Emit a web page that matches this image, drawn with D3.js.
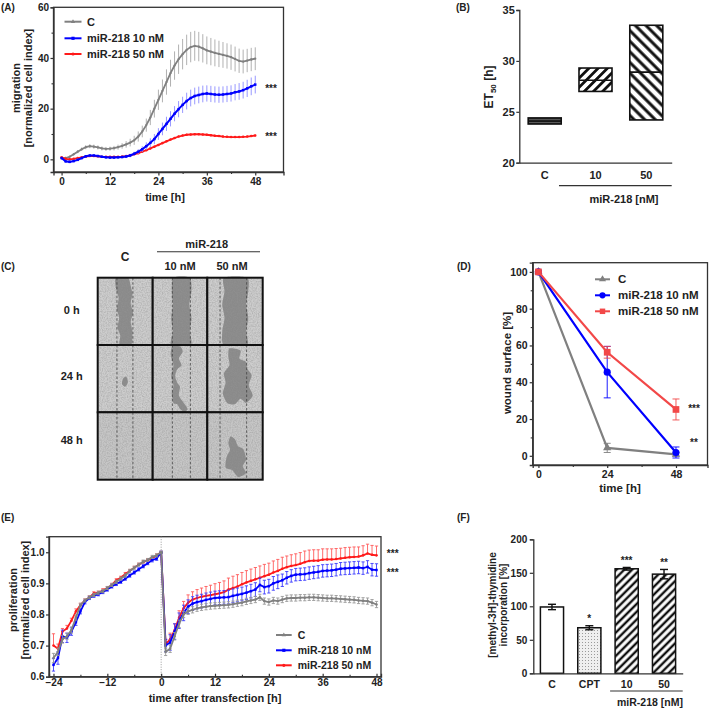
<!DOCTYPE html>
<html>
<head>
<meta charset="UTF-8">
<script src="https://d3js.org/d3.v7.min.js"></script>
<style>
  body { margin: 0; background: #fff; }
  svg text { font-family: "Liberation Sans", Arial, Helvetica, sans-serif; font-weight: bold; fill: #222; }
</style>
</head>
<body>
<svg id="fig" width="709" height="712"></svg>
<script>
// ---------- data ----------
// (A) migration, hourly 0..48 h
const hoursA = d3.range(0, 49);
const migC = [0.5,0.5,1.0,2.0,3.0,4.0,4.8,5.2,5.0,4.7, 4.3,4.1,4.2,4.4,4.8,5.3,5.9,6.6,7.5,9.0,
  11.0,13.5,16.5,20.0,23.5,27.0,30.5,34.0,37.0,39.5, 41.5,43.2,44.3,44.8,44.5,43.8,43.0,42.5,42.0,41.6,
  41.2,40.8,40.3,39.6,38.9,38.6,39.0,39.4,39.7];
const migCErr = [0.6,0.6,0.5,0.5,0.6,0.7,0.8,0.8,0.8,0.8, 0.8,0.8,0.8,0.9,1.0,1.1,1.3,1.5,1.8,2.0,
  2.3,2.6,3.0,3.5,4.0,4.5,5.0,5.3,5.6,5.8, 6.0,6.0,6.0,5.9,5.8,5.6,5.5,5.4,5.3,5.2,
  5.1,5.0,5.0,4.9,4.8,4.7,4.6,4.6,4.5];
const mig10 = [0.5,-0.8,-1.0,-0.7,-0.2,0.5,1.2,1.5,1.5,1.3, 1.0,0.8,0.7,0.7,0.8,0.9,1.1,1.5,2.2,3.0,
  4.0,5.2,6.5,8.0,10.0,12.0,14.0,16.0,18.0,19.8, 21.5,23.0,24.2,25.0,25.4,25.8,26.0,25.8,25.6,25.5,
  25.6,25.8,26.0,26.5,26.8,27.3,28.0,28.8,29.5];
const mig10Err = [0.5,0.5,0.5,0.5,0.5,0.5,0.5,0.5,0.5,0.5, 0.5,0.5,0.5,0.5,0.5,0.5,0.6,0.7,0.8,1.0,
  1.2,1.5,1.8,2.0,2.3,2.5,2.8,3.0,3.0,3.2, 3.2,3.3,3.3,3.3,3.3,3.3,3.2,3.2,3.2,3.2,
  3.2,3.2,3.2,3.2,3.3,3.3,3.4,3.5,3.5];
const mig50 = [0.8,0.2,0.0,0.2,0.5,0.8,1.1,1.3,1.3,1.2, 1.0,1.0,1.0,1.0,1.0,1.1,1.3,1.6,2.0,2.4,
  3.0,3.6,4.3,5.0,5.7,6.4,7.1,7.8,8.4,9.0, 9.4,9.7,9.8,9.9,9.9,9.8,9.7,9.5,9.3,9.2,
  9.0,8.9,8.8,8.8,8.8,8.9,9.0,9.2,9.4];
const mig50Err = [0.5,0.4,0.4,0.3,0.3,0.3,0.3,0.3,0.3,0.3, 0.3,0.3,0.3,0.3,0.3,0.3,0.3,0.3,0.3,0.3,
  0.3,0.3,0.3,0.3,0.3,0.3,0.3,0.3,0.3,0.3, 0.3,0.3,0.3,0.3,0.3,0.3,0.3,0.3,0.3,0.3,
  0.3,0.3,0.3,0.3,0.3,0.3,0.3,0.3,0.4];

// (B) ET50 floating bars
const bCats = ["C", "10", "50"];
const bLow = [23.8, 27.0, 24.2];
const bMid = [24.1, 28.1, 28.9];
const bHigh = [24.4, 29.3, 33.5];

// (D) wound surface
const dTimes = [0, 24, 48];
const woundC = [100, 4.3, 0.8];
const woundCErr = [0, 2.5, 1.0];
const wound10 = [100, 45.5, 1.8];
const wound10Err = [0, 14.0, 3.0];
const wound50 = [100, 56.3, 25.2];
const wound50Err = [0, 3.2, 5.7];

// (E) proliferation, hourly
const preHours = d3.range(-24, 1);
const postHours = d3.range(0, 49);
const preC  = [0.66,0.68,0.72,0.73,0.75,0.79,0.83,0.845,0.855,0.863,0.87,0.875,0.885,0.895,0.905,0.915,0.925,0.94,0.95,0.96,0.97,0.975,0.985,0.99,1.0];
const pre10 = [0.638,0.66,0.73,0.725,0.745,0.775,0.81,0.84,0.853,0.86,0.865,0.872,0.88,0.89,0.898,0.905,0.915,0.925,0.935,0.945,0.955,0.965,0.975,0.98,1.0];
const pre50 = [0.70,0.69,0.745,0.755,0.78,0.81,0.83,0.845,0.855,0.868,0.87,0.878,0.885,0.895,0.91,0.918,0.93,0.94,0.95,0.96,0.968,0.975,0.98,0.99,1.0];
const preCErr  = [0.015,0.012,0.012,0.01,0.01,0.008,0.006,0.005,0.005,0.005,0.005,0.005,0.005,0.005,0.005,0.005,0.005,0.005,0.005,0.005,0.005,0.005,0.005,0.005,0.003];
const pre10Err = [0.02,0.02,0.02,0.015,0.012,0.01,0.008,0.006,0.005,0.005,0.005,0.005,0.005,0.005,0.005,0.005,0.005,0.005,0.005,0.005,0.005,0.005,0.006,0.006,0.003];
const pre50Err = [0.038,0.015,0.01,0.01,0.008,0.008,0.006,0.005,0.005,0.005,0.005,0.005,0.005,0.005,0.005,0.005,0.005,0.005,0.005,0.005,0.005,0.005,0.005,0.005,0.003];
const postC = [1.0,0.68,0.69,0.73,0.77,0.80,0.81,0.815,0.82,0.823, 0.825,0.827,0.828,0.829,0.83,0.831,0.833,0.836,0.838,0.842,
  0.845,0.848,0.855,0.843,0.84,0.845,0.843,0.848,0.852,0.853, 0.853,0.854,0.854,0.855,0.855,0.854,0.853,0.852,0.852,0.851,
  0.85,0.849,0.848,0.847,0.845,0.844,0.843,0.838,0.832];
const post10 = [1.0,0.70,0.71,0.745,0.78,0.805,0.825,0.835,0.84,0.843, 0.847,0.85,0.853,0.854,0.855,0.856,0.86,0.863,0.866,0.87,
  0.875,0.88,0.895,0.888,0.891,0.9,0.905,0.91,0.918,0.924, 0.928,0.929,0.93,0.933,0.935,0.937,0.94,0.941,0.942,0.944,
  0.947,0.948,0.949,0.95,0.951,0.949,0.953,0.944,0.943];
const post50 = [1.0,0.705,0.72,0.75,0.79,0.82,0.838,0.848,0.853,0.857, 0.86,0.862,0.865,0.868,0.872,0.88,0.885,0.89,0.897,0.903,
  0.908,0.913,0.918,0.923,0.928,0.935,0.94,0.947,0.952,0.956, 0.959,0.963,0.968,0.972,0.973,0.973,0.976,0.977,0.977,0.978,
  0.98,0.982,0.984,0.985,0.986,0.99,0.996,0.992,0.99];
const postCErr = [0.003,0.012,0.012,0.012,0.012,0.01,0.01,0.01,0.01,0.01, 0.01,0.01,0.01,0.01,0.01,0.01,0.01,0.01,0.01,0.01,
  0.01,0.01,0.01,0.01,0.01,0.01,0.01,0.01,0.01,0.01, 0.01,0.01,0.01,0.01,0.01,0.01,0.01,0.01,0.01,0.01,
  0.01,0.01,0.01,0.01,0.01,0.01,0.01,0.01,0.01];
const post10Err = [0.003,0.02,0.025,0.025,0.025,0.025,0.022,0.022,0.022,0.022, 0.022,0.022,0.022,0.022,0.022,0.022,0.022,0.022,0.022,0.022,
  0.022,0.022,0.022,0.022,0.022,0.022,0.022,0.02,0.02,0.02, 0.02,0.02,0.02,0.02,0.02,0.02,0.02,0.02,0.02,0.02,
  0.02,0.02,0.02,0.02,0.02,0.02,0.02,0.02,0.02];
const post50Err = [0.003,0.015,0.02,0.02,0.022,0.022,0.025,0.025,0.027,0.028, 0.03,0.032,0.034,0.035,0.036,0.037,0.038,0.038,0.038,0.038,
  0.038,0.038,0.038,0.038,0.037,0.037,0.037,0.037,0.036,0.036, 0.036,0.036,0.036,0.035,0.035,0.035,0.035,0.034,0.034,0.034,
  0.033,0.033,0.032,0.032,0.031,0.031,0.03,0.03,0.03];

// (F) thymidine incorporation
const fCats = ["C", "CPT", "10", "50"];
const fVals = [99, 68, 156, 148];
const fErr = [4, 3, 2, 7];
const fStars = ["", "*", "***", "**"];

// (C) wound photos (shape outlines in cell-relative units 0..1)
const cCols = ["C", "10 nM", "50 nM"];
const cRows = ["0 h", "24 h", "48 h"];
const cDashes = [[0.35, 0.64], [0.36, 0.69], [0.23, 0.71]];
const cWounds = [
  [[[0.33,0],[0.55,0],[0.6,0.12],[0.63,0.25],[0.6,0.38],[0.64,0.52],[0.6,0.66],[0.63,0.8],[0.61,1],[0.4,1],[0.41,0.86],[0.36,0.74],[0.39,0.6],[0.35,0.46],[0.38,0.3],[0.33,0.15]]],
  [[[0.38,0],[0.68,0],[0.71,0.2],[0.67,0.4],[0.71,0.6],[0.68,0.8],[0.7,1],[0.34,1],[0.37,0.8],[0.34,0.6],[0.37,0.4],[0.35,0.2]]],
  [[[0.3,0],[0.72,0],[0.74,0.2],[0.7,0.4],[0.74,0.6],[0.7,0.8],[0.72,1],[0.3,1],[0.27,0.8],[0.31,0.6],[0.27,0.4],[0.31,0.2]]],
  [[[0.46,0.5],[0.52,0.47],[0.55,0.55],[0.5,0.62],[0.44,0.58]]],
  [[[0.36,0.02],[0.5,0.02],[0.55,0.1],[0.48,0.2],[0.53,0.3],[0.45,0.36],[0.41,0.46],[0.45,0.56],[0.5,0.62],[0.48,0.75],[0.56,0.85],[0.64,0.95],[0.58,0.99],[0.5,0.95],[0.45,0.88],[0.38,0.86],[0.35,0.72],[0.38,0.6],[0.34,0.46],[0.38,0.3],[0.33,0.15]]],
  [[[0.4,0.05],[0.6,0.08],[0.58,0.2],[0.7,0.25],[0.72,0.35],[0.8,0.45],[0.75,0.6],[0.82,0.75],[0.7,0.86],[0.6,0.8],[0.5,0.88],[0.36,0.86],[0.28,0.72],[0.33,0.56],[0.3,0.42],[0.4,0.3],[0.38,0.18]]],
  [],
  [],
  [[[0.42,0.36],[0.5,0.4],[0.55,0.5],[0.65,0.55],[0.7,0.7],[0.64,0.8],[0.7,0.9],[0.56,0.96],[0.45,0.86],[0.33,0.82],[0.35,0.66],[0.41,0.56],[0.38,0.46]]]
];

// ---------- helpers ----------
const svg = d3.select("#fig");
const GREY = "#808080", BLUE = "#0000ff", RED = "#ff1a1a";

const defs = svg.append("defs");
function hatch(id, size, width, angle, bg, fg) {
  const p = defs.append("pattern").attr("id", id).attr("patternUnits", "userSpaceOnUse")
    .attr("width", size).attr("height", size).attr("patternTransform", `rotate(${angle})`);
  p.append("rect").attr("width", size).attr("height", size).attr("fill", bg || "#fff");
  p.append("line").attr("x1", size / 2).attr("x2", size / 2).attr("y1", 0).attr("y2", size)
    .attr("stroke", fg || "#111").attr("stroke-width", width);
}
hatch("hB10", 6.5, 2.8, 45);
hatch("hB50", 7.5, 3, -45);
hatch("hBC", 2.5, 1.2, 90, "#6a6a6a", "#222");
hatch("hF", 5.5, 2.4, 45);
const dots = defs.append("pattern").attr("id", "dotF").attr("patternUnits", "userSpaceOnUse")
  .attr("width", 3).attr("height", 3);
dots.append("rect").attr("width", 3).attr("height", 3).attr("fill", "#efefef");
dots.append("rect").attr("width", 1).attr("height", 1).attr("fill", "#9a9a9a");
const noise = defs.append("filter").attr("id", "grain").attr("x", 0).attr("y", 0).attr("width", 1).attr("height", 1);
noise.append("feTurbulence").attr("type", "fractalNoise").attr("baseFrequency", 0.8).attr("numOctaves", 2).attr("seed", 3);
noise.append("feColorMatrix").attr("type", "matrix")
  .attr("values", "0 0 0 0 0.3  0 0 0 0 0.3  0 0 0 0 0.3  1 0 0 0 -0.35");

function label(x, y, s, size, anchor) {
  return svg.append("text").attr("x", x).attr("y", y).attr("dy", "0.35em")
    .attr("font-size", size || 11).attr("text-anchor", anchor || "start").text(s);
}
function vlabel(cx, cy, s, size) {
  return svg.append("text").attr("transform", `translate(${cx},${cy}) rotate(-90)`)
    .attr("dy", "0.35em").attr("font-size", size || 11).attr("text-anchor", "middle").text(s);
}
function styleAxis(g, fs) {
  g.attr("font-size", fs || 10);
  g.select("path.domain").attr("stroke", "#333").attr("stroke-width", 1.3);
  g.selectAll(".tick line").attr("stroke", "#333").attr("stroke-width", 1.2);
  g.selectAll(".tick text").attr("fill", "#222");
}
function minor(axisFn, scale, vals, size, y, x) {
  const g = svg.append("g").attr("transform", `translate(${x || 0},${y || 0})`)
    .call(axisFn(scale).tickValues(vals).tickSize(size).tickFormat(""));
  g.select("path.domain").remove();
  g.selectAll(".tick line").attr("stroke", "#333").attr("stroke-width", 1.1);
}
function frame(x, y) {
  svg.append("rect").attr("x", x.range()[0]).attr("y", y.range()[1])
    .attr("width", x.range()[1] - x.range()[0]).attr("height", y.range()[0] - y.range()[1])
    .attr("fill", "none").attr("stroke", "#333").attr("stroke-width", 1.3);
}
// a line series with error bars and markers
function series(xs, ys, errs, x, y, o) {
  const g = svg.append("g");
  const pts = xs.map((t, i) => ({ t, v: ys[i], e: errs[i] }));
  g.selectAll("line.err").data(pts).join("line").attr("class", "err")
    .attr("x1", d => x(d.t)).attr("x2", d => x(d.t))
    .attr("y1", d => y(d.v - (o.upOnly ? 0 : d.e))).attr("y2", d => y(d.v + d.e))
    .attr("stroke", o.errColor || o.color).attr("stroke-width", o.errWidth || 0.9);
  if (o.cap) {
    g.selectAll("line.capT").data(pts).join("line")
      .attr("x1", d => x(d.t) - o.cap).attr("x2", d => x(d.t) + o.cap)
      .attr("y1", d => y(d.v + d.e)).attr("y2", d => y(d.v + d.e))
      .attr("stroke", o.errColor || o.color).attr("stroke-width", 0.9);
    if (!o.upOnly) g.selectAll("line.capB").data(pts).join("line")
      .attr("x1", d => x(d.t) - o.cap).attr("x2", d => x(d.t) + o.cap)
      .attr("y1", d => y(d.v - d.e)).attr("y2", d => y(d.v - d.e))
      .attr("stroke", o.errColor || o.color).attr("stroke-width", 0.9);
  }
  g.append("path").datum(pts).attr("fill", "none").attr("stroke", o.color)
    .attr("stroke-width", o.width || 2)
    .attr("d", d3.line().x(d => x(d.t)).y(d => y(d.v)));
  g.selectAll("path.mk").data(pts).join("path").attr("class", "mk")
    .attr("transform", d => `translate(${x(d.t)},${y(d.v)})`)
    .attr("d", d3.symbol().type(o.symbol || d3.symbolCircle).size(o.msize || 6))
    .attr("fill", o.color);
}
function legend(x0, x1, tx, ys, names, colors, symbols, msize, fs) {
  names.forEach((n, i) => {
    svg.append("line").attr("x1", x0).attr("x2", x1).attr("y1", ys[i]).attr("y2", ys[i])
      .attr("stroke", colors[i]).attr("stroke-width", 2);
    svg.append("path").attr("transform", `translate(${(x0 + x1) / 2},${ys[i]})`)
      .attr("d", d3.symbol().type(symbols[i]).size(msize[i])).attr("fill", colors[i]);
    label(tx, ys[i], n, fs);
  });
}
const names = ["C", "miR-218 10 nM", "miR-218 50 nM"];

// ---------- (A) ----------
const xA = d3.scaleLinear().domain([-2, 55]).range([53.5, 283.5]);
const yA = d3.scaleLinear().domain([-5, 60]).range([172, 7.3]);
frame(xA, yA);
minor(d3.axisBottom, xA, [6, 18, 30, 42], 2, 172);
minor(d3.axisLeft, yA, [10, 30, 50], 2, 0, 53.5);
svg.append("g").attr("transform", "translate(0,172)")
  .call(d3.axisBottom(xA).tickValues([0, 12, 24, 36, 48]).tickSize(3.5).tickPadding(2.5)).call(styleAxis);
svg.append("g").attr("transform", "translate(53.5,0)")
  .call(d3.axisLeft(yA).tickValues([0, 20, 40, 60]).tickSize(3).tickPadding(1.5)).call(styleAxis);
series(hoursA, migC, migCErr, xA, yA, { color: GREY, errColor: "#a8a8a8", width: 1.8, msize: 4 });
series(hoursA, mig50, mig50Err, xA, yA, { color: RED, errColor: "#ff7070", width: 1.8, msize: 5 });
series(hoursA, mig10, mig10Err, xA, yA, { color: BLUE, errColor: "#8c8cff", width: 2, msize: 6, symbol: d3.symbolSquare });
legend(64.5, 81.5, 87, [21.7, 38.3, 54], names, [GREY, BLUE, RED],
  [d3.symbolTriangle, d3.symbolSquare, d3.symbolCircle], [8, 10, 8], 11);
label(271, 88, "***", 10, "middle").attr("fill", "#444");
label(271, 136, "***", 10, "middle").attr("fill", "#444");
label(165, 197, "time [h]", 11, "middle");
vlabel(16, 88, "migration", 11);
vlabel(28.5, 88, "[normalized cell index]", 11);
label(1, 7, "(A)", 10);

// ---------- (B) ----------
const xB = d3.scaleBand().domain(bCats).range([519.3, 671.7]).paddingInner(0.35).paddingOuter(0.175);
const yB = d3.scaleLinear().domain([20, 35]).range([162.7, 10]);
const bFill = ["url(#hBC)", "url(#hB10)", "url(#hB50)"];
svg.append("g").selectAll("rect").data(bCats).join("rect")
  .attr("x", d => xB(d)).attr("width", xB.bandwidth())
  .attr("y", (d, i) => yB(bHigh[i])).attr("height", (d, i) => yB(bLow[i]) - yB(bHigh[i]))
  .attr("fill", (d, i) => bFill[i]).attr("stroke", "#111").attr("stroke-width", 1.6);
svg.append("g").selectAll("line").data(bCats).join("line")
  .attr("x1", d => xB(d)).attr("x2", d => xB(d) + xB.bandwidth())
  .attr("y1", (d, i) => yB(bMid[i])).attr("y2", (d, i) => yB(bMid[i]))
  .attr("stroke", "#111").attr("stroke-width", 1.6);
svg.append("g").attr("transform", "translate(0,162.7)")
  .call(d3.axisBottom(xB).tickSize(0).tickPadding(9)).call(g => styleAxis(g, 11));
svg.append("g").attr("transform", "translate(519.3,0)")
  .call(d3.axisLeft(yB).tickValues([20, 25, 30, 35]).tickSize(3).tickPadding(1.5)).call(g => styleAxis(g, 11));
svg.append("line").attr("x1", xB("10") - 20).attr("x2", 671.7).attr("y1", 185.7).attr("y2", 185.7)
  .attr("stroke", "#333").attr("stroke-width", 1.2);
label(624, 199, "miR-218 [nM]", 11, "middle");
const et = svg.append("text").attr("transform", "translate(488.5,87) rotate(-90)")
  .attr("dy", "0.35em").attr("font-size", 12).attr("text-anchor", "middle");
et.append("tspan").text("ET");
et.append("tspan").attr("font-size", 8).attr("dy", 3).text("50");
et.append("tspan").attr("dy", -3).text(" [h]");
label(456, 7, "(B)", 10);

// ---------- (C) ----------
const cx = [97.7, 152.7, 207.3, 262.7];
const cy = [277.7, 345, 412.3, 479.7];
const blob = d3.line().curve(d3.curveCardinalClosed.tension(0.3));
cRows.forEach((r, ri) => {
  cCols.forEach((c, ci) => {
    const x0 = cx[ci], y0 = cy[ri], w = cx[ci + 1] - x0, h = cy[ri + 1] - y0;
    svg.append("rect").attr("x", x0).attr("y", y0).attr("width", w).attr("height", h)
      .attr("fill", ri === 2 ? "#c6c6c6" : "#cdcdcd");
    cWounds[ri * 3 + ci].forEach(poly => {
      svg.append("path").attr("d", blob(poly.map(p => [x0 + p[0] * w, y0 + p[1] * h])))
        .attr("fill", "#8a8a8a");
    });
    svg.append("rect").attr("x", x0).attr("y", y0).attr("width", w).attr("height", h)
      .attr("filter", "url(#grain)").attr("fill", "#fff");
    cDashes[ci].forEach(f => {
      svg.append("line").attr("x1", x0 + f * w).attr("x2", x0 + f * w).attr("y1", y0).attr("y2", y0 + h)
        .attr("stroke", "#444").attr("stroke-width", 0.8).attr("stroke-dasharray", "2.5,2");
    });
    svg.append("rect").attr("x", x0).attr("y", y0).attr("width", w).attr("height", h)
      .attr("fill", "none").attr("stroke", "#111").attr("stroke-width", 2);
  });
  label(71.7, [310, 375.7, 440][ri], r, 11, "middle");
});
label(125, 256.7, "C", 12, "middle");
label(206.7, 244.3, "miR-218", 11, "middle");
svg.append("line").attr("x1", 157).attr("x2", 260).attr("y1", 251.7).attr("y2", 251.7)
  .attr("stroke", "#333").attr("stroke-width", 1.1);
label(180, 265.7, "10 nM", 11, "middle");
label(232, 265.7, "50 nM", 11, "middle");
label(1, 266.7, "(C)", 10);

// ---------- (D) ----------
const xD = d3.scaleLinear().domain([-2, 59]).range([532.7, 707.5]);
const yD = d3.scaleLinear().domain([-5, 105]).range([465, 262.7]);
frame(xD, yD);
minor(d3.axisBottom, xD, [12, 36], 2, 465);
minor(d3.axisLeft, yD, [10, 30, 50, 70, 90], 2, 0, 532.7);
svg.append("g").attr("transform", "translate(0,465)")
  .call(d3.axisBottom(xD).tickValues(dTimes).tickSize(3).tickPadding(2.5)).call(g => styleAxis(g, 10.5));
svg.append("g").attr("transform", "translate(532.7,0)")
  .call(d3.axisLeft(yD).tickValues([0, 20, 40, 60, 80, 100]).tickSize(3).tickPadding(2)).call(g => styleAxis(g, 10.5));
const RED_D = "#f24848";
series(dTimes, woundC, woundCErr, xD, yD, { color: GREY, width: 2.2, cap: 3.5, symbol: d3.symbolTriangle, msize: 30 });
series(dTimes, wound10, wound10Err, xD, yD, { color: BLUE, width: 2.2, cap: 3.5, symbol: d3.symbolCircle, msize: 40 });
series(dTimes, wound50, wound50Err, xD, yD, { color: RED_D, width: 2.2, cap: 3.5, symbol: d3.symbolSquare, msize: 45 });
legend(595, 610, 618, [279.3, 295.3, 311.3], names, [GREY, BLUE, RED_D],
  [d3.symbolTriangle, d3.symbolCircle, d3.symbolSquare], [22, 30, 30], 11.5);
label(694, 408, "***", 10, "middle").attr("fill", "#444");
label(694, 442.5, "**", 10, "middle").attr("fill", "#444");
label(620, 488.3, "time [h]", 11.5, "middle");
vlabel(506.7, 363, "wound surface [%]", 11.5);
label(457, 266, "(D)", 10);

// ---------- (E) ----------
const xE = d3.scaleLinear().domain([-25, 49]).range([49, 381]);
const yE = d3.scaleLinear().domain([0.6, 1.05]).range([676.7, 536.7]);
frame(xE, yE);
svg.append("line").attr("x1", xE(0)).attr("x2", xE(0)).attr("y1", 536.7).attr("y2", 676.7)
  .attr("stroke", "#999").attr("stroke-width", 1).attr("stroke-dasharray", "1,1.5");
minor(d3.axisBottom, xE, [-18, -6, 6, 18, 30, 42], -2, 676.7);
svg.append("g").attr("transform", "translate(0,676.7)")
  .call(d3.axisBottom(xE).tickValues([-24, -12, 0, 12, 24, 36, 48]).tickSize(-3).tickPadding(2.5)).call(styleAxis);
svg.append("g").attr("transform", "translate(49,0)")
  .call(d3.axisLeft(yE).tickValues([0.6, 0.7, 0.8, 0.9, 1.0]).tickFormat(d3.format(".1f")).tickSize(3).tickPadding(1.5)).call(styleAxis);
const eRed = { color: RED, errColor: "#ff5a5a", width: 1.8, cap: 1.6, msize: 5, upOnly: true };
const eBlue = { color: BLUE, errColor: "#3c3cff", width: 1.8, cap: 1.6, msize: 6, symbol: d3.symbolSquare };
const eGrey = { color: GREY, errColor: "#9a9a9a", width: 1.8, cap: 1.6, msize: 5 };
series(preHours, pre50, pre50Err, xE, yE, eRed);
series(postHours, post50, post50Err, xE, yE, eRed);
series(preHours, pre10, pre10Err, xE, yE, eBlue);
series(postHours, post10, post10Err, xE, yE, eBlue);
series(preHours, preC, preCErr, xE, yE, eGrey);
series(postHours, postC, postCErr, xE, yE, eGrey);
legend(276, 291.7, 297.7, [635, 650.3, 665.3], names, [GREY, BLUE, RED],
  [d3.symbolTriangle, d3.symbolSquare, d3.symbolCircle], [8, 10, 8], 10.5);
label(392.7, 553, "***", 10, "middle").attr("fill", "#444");
label(392.7, 572, "***", 10, "middle").attr("fill", "#444");
label(215, 698.3, "time after transfection [h]", 11, "middle");
vlabel(13, 600, "proliferation", 11);
vlabel(25.5, 600, "[normalized cell index]", 11);
label(1, 517.7, "(E)", 10);

// ---------- (F) ----------
const xF = d3.scaleBand().domain(fCats).range([533.3, 682.7]).paddingInner(0.38).paddingOuter(0.19);
const yF = d3.scaleLinear().domain([0, 200]).range([673.3, 539.3]);
const fFill = ["#fff", "url(#dotF)", "url(#hF)", "url(#hF)"];
svg.append("g").selectAll("rect").data(fCats).join("rect")
  .attr("x", d => xF(d)).attr("width", xF.bandwidth())
  .attr("y", (d, i) => yF(fVals[i])).attr("height", (d, i) => yF(0) - yF(fVals[i]))
  .attr("fill", (d, i) => fFill[i]).attr("stroke", "#111").attr("stroke-width", 1.5);
const fe = svg.append("g").attr("stroke", "#111").attr("stroke-width", 1.4);
fCats.forEach((c, i) => {
  const mx = xF(c) + xF.bandwidth() / 2;
  fe.append("line").attr("x1", mx).attr("x2", mx).attr("y1", yF(fVals[i] - fErr[i])).attr("y2", yF(fVals[i] + fErr[i]));
  fe.append("line").attr("x1", mx - 4).attr("x2", mx + 4).attr("y1", yF(fVals[i] + fErr[i])).attr("y2", yF(fVals[i] + fErr[i]));
  fe.append("line").attr("x1", mx - 4).attr("x2", mx + 4).attr("y1", yF(fVals[i] - fErr[i])).attr("y2", yF(fVals[i] - fErr[i]));
  if (fStars[i]) label(mx, yF(fVals[i] + fErr[i]) - 7, fStars[i], 10, "middle").attr("fill", "#444");
});
svg.append("g").attr("transform", "translate(0,673.3)")
  .call(d3.axisBottom(xF).tickSize(0).tickPadding(7)).call(g => styleAxis(g, 10.5));
svg.append("g").attr("transform", "translate(533.3,0)")
  .call(d3.axisLeft(yF).tickValues([0, 50, 100, 150, 200]).tickSize(3.5).tickPadding(2.5)).call(styleAxis);
svg.append("line").attr("x1", xF("10") - 5).attr("x2", 682.7).attr("y1", 691).attr("y2", 691)
  .attr("stroke", "#333").attr("stroke-width", 1.2);
label(650, 702, "miR-218 [nM]", 10.5, "middle");
vlabel(492.5, 605, "[methyl-3H]-thymidine", 10);
vlabel(503, 605, "incorporation [%]", 10);
label(457, 517.7, "(F)", 10);
</script>
</body>
</html>
